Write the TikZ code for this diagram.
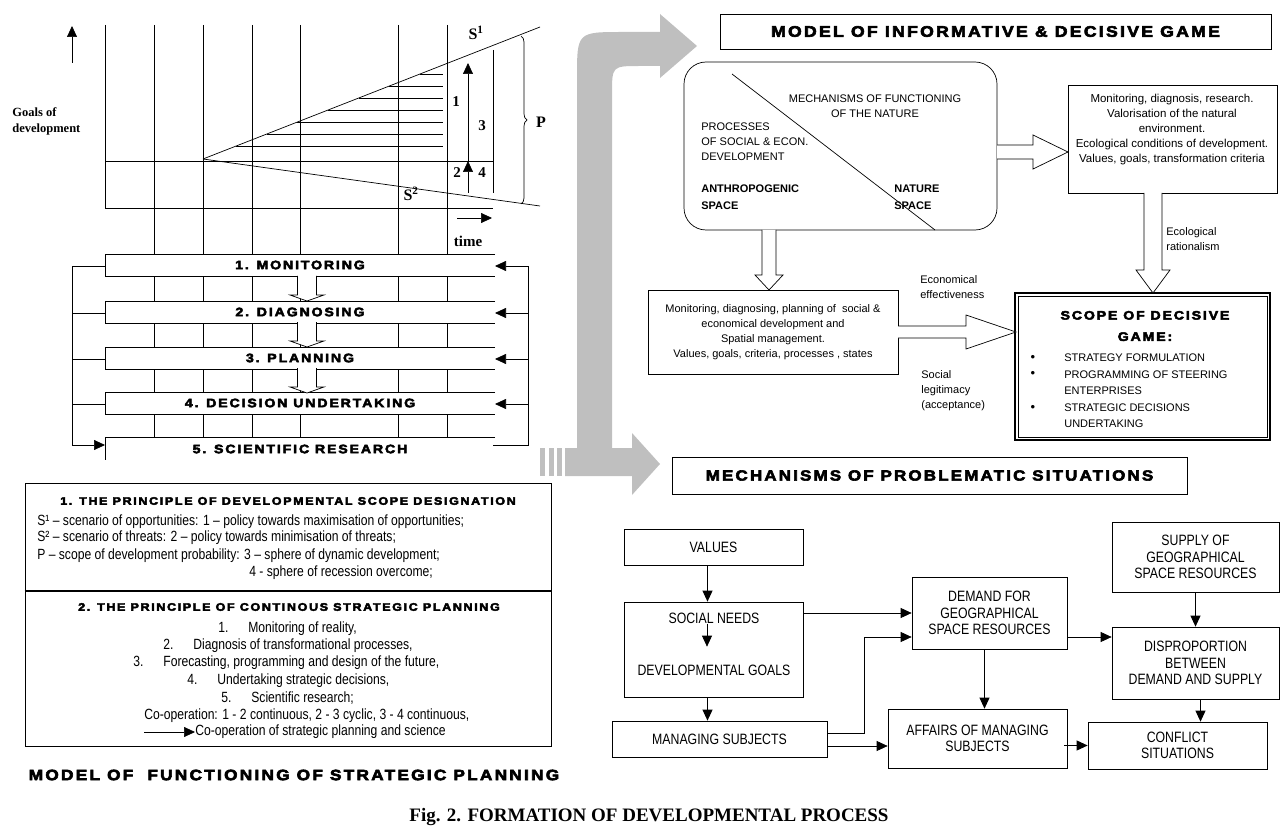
\documentclass[tikz,border=0pt]{standalone}
\usepackage{fontspec}
\setmainfont{Liberation Serif}
\newfontfamily\plainsans{Liberation Sans}
\newfontfamily\narrowsans{Liberation Sans}[FakeStretch=0.82]
\newfontfamily\heavysans{Liberation Sans}[LetterSpace=15, FakeStretch=1.15, BoldFeatures={FakeBold=4}]
\usetikzlibrary{arrows.meta, decorations.pathreplacing, positioning}

\begin{document}
\begin{tikzpicture}[x=1pt, y=-1pt, line width=0.7pt,
  arr/.style={-{Triangle[length=11pt, width=10pt]}},
  hollow/.style={draw, fill=white},
  greyarrow/.style={fill=black!25},
  box/.style={rectangle, draw, fill=white, inner sep=0pt, align=center},
  heavy/.style={font=\heavysans\bfseries\fontsize{#1}{#1}\selectfont, inner sep=0pt},
  serifb/.style={font=\bfseries\fontsize{#1}{#1}\selectfont, inner sep=0pt},
  ptxt/.style={font=\narrowsans\fontsize{14.8}{17}\selectfont, inner sep=0pt, anchor=west},
  ftxt/.style={font=\narrowsans\fontsize{15}{16.5}\selectfont, inner sep=0pt, align=center},
  stxt/.style={font=\plainsans\fontsize{11}{15}\selectfont, inner sep=0pt, align=center}
]
\useasboundingbox (0,0) rectangle (1286,829);

% ---- goals chart ----
\foreach \gx in {154,203,252,300,398,447}
  \draw (\gx,25) -- (\gx,437);
\draw (105,25) -- (105,208);
\draw (105,161) -- (493,161);
\draw (105,208) -- (493,208);
\draw (493,50) -- (493,193);
\coordinate (apex) at (203,159);
\draw (apex) -- (540,27);
\draw (apex) -- (540,206);
\foreach \hy in {74,86,...,146}
  \draw ({203+(159-\hy)/0.392},\hy) -- (443,\hy);
\draw[arr] (468,193) -- (468,161);
\draw[arr] (468,161) -- (468,63);
\draw[arr] (72,63) -- (72,26);
\draw[arr] (457,218) -- (492,218);
\draw[decorate, decoration={brace, amplitude=6pt}] (521,36) -- (521,204);

\node[serifb=16] (s1) at (476,33) {S\textsuperscript{1}};
\node[serifb=16] (s2) at (411,194) {S\textsuperscript{2}};
\node[serifb=15] (lab1) at (456,102) {1};
\node[serifb=15] (lab3) at (482,126) {3};
\node[serifb=15] (lab2) at (457,173) {2};
\node[serifb=15] (lab4) at (482,173) {4};
\node[serifb=16] (plab) at (541,122) {P};
\node[serifb=15] (tlab) at (468,241) {time};
\node[serifb=12.5, align=left, anchor=west] (goals) at (12,121.5) {Goals of\\[3pt]development};

% ---- planning bars ----
\foreach \by/\btxt [count=\bi] in {254/1. MONITORING, 301/2. DIAGNOSING, 347/3. PLANNING, 392/4. DECISION UNDERTAKING}{
  \draw[fill=white] (495,\by) -- (105,\by) -- (105,\by+22) -- (495,\by+22);
  \node[heavy=12.3] (bar\bi) at (300,\by+11) {\btxt};
  \coordinate (bl\bi) at (105,\by+12);
  \coordinate (br\bi) at (495,\by+12);
}
\draw (495,437) -- (105,437) -- (105,460);
\node[heavy=12.3] (bar5) at (300,449) {5. SCIENTIFIC RESEARCH};
\coordinate (bl5) at (105,445);
\coordinate (br5) at (493,445);
\foreach \by in {276,322,368}
  \draw[hollow] (297.5,\by) -- (297.5,\by+19) -- (290,\by+19) -- (307,\by+25)
    -- (324,\by+19) -- (316.5,\by+19) -- (316.5,\by);

\coordinate (lrail) at (72,445);
\coordinate (rrail) at (528,445);
\draw (bl1) -- (bl1 -| lrail) -- (lrail);
\draw[arr] (lrail) -- (bl5);
\foreach \k in {2,3,4}
  \draw (bl\k) -- (bl\k -| lrail);
\draw (br5) -- (rrail) -- (rrail |- br1);
\foreach \k in {1,2,3,4}
  \draw[arr] (br\k -| rrail) -- (br\k);

% ---- principles ----
\node[box, line width=1pt, minimum width=526pt, minimum height=263pt] (prin) at (288,614.5) {};
\draw[line width=1.5pt] (prin.west |- 0,591) -- (prin.east |- 0,591);
\node[heavy=10.9] (p1title) at (288,501) {1. THE PRINCIPLE OF DEVELOPMENTAL SCOPE DESIGNATION};
\node[ptxt] (p1a) at (37,522) {S¹ – scenario of opportunities: 1 – policy towards maximisation of opportunities;};
\node[ptxt] (p1b) at (37,538) {S² – scenario of threats: 2 – policy towards minimisation of threats;};
\node[ptxt] (p1c) at (37,556) {P – scope of development probability: 3 – sphere of dynamic development;};
\node[ptxt] (p1d) at (249,573) {4 - sphere of recession overcome;};
\node[heavy=10.9] (p2title) at (289,607) {2. THE PRINCIPLE OF CONTINOUS STRATEGIC PLANNING};
\node[ptxt] (item1) at (218,629) {\makebox[30pt][l]{1.}Monitoring of reality,};
\node[ptxt] (item2) at (163,646) {\makebox[30pt][l]{2.}Diagnosis of transformational processes,};
\node[ptxt] (item3) at (133,663) {\makebox[30pt][l]{3.}Forecasting, programming and design of the future,};
\node[ptxt] (item4) at (187,681) {\makebox[30pt][l]{4.}Undertaking strategic decisions,};
\node[ptxt] (item5) at (221,698) {\makebox[30pt][l]{5.}Scientific research;};
\node[ptxt] (coop) at (144,716) {Co-operation: 1 - 2 continuous, 2 - 3 cyclic, 3 - 4 continuous,};
\node[ptxt] (coopsci) at (195,732) {Co-operation of strategic planning and science};
\draw[arr] ([xshift=-51pt]coopsci.west) -- (coopsci.west);

\node[heavy=15] (lefttitle) at (294,775) {MODEL OF \ FUNCTIONING OF STRATEGIC PLANNING};
\node[serifb=19] (caption) at (649,817) {Fig. 2. FORMATION OF DEVELOPMENTAL PROCESS};

% ---- grey link arrows ----
\fill[greyarrow] (565,448) -- (577,448) -- (577,78) .. controls (577,32) .. (623,32)
  -- (660,32) -- (660,14) -- (697,46) -- (660,78) -- (660,66) -- (640,66)
  .. controls (612,66) .. (612,94) -- (612,448) -- (632,448) -- (632,433)
  -- (660,464) -- (632,495) -- (632,476) -- (565,476) -- cycle;
\foreach \sx in {540,548.5,557}
  \fill[greyarrow] (\sx,448) rectangle (\sx+5,476);

% ---- informative & decisive game ----
\node[box, heavy=15.3, minimum width=551pt, minimum height=35pt] (mtitle) at (995.5,31.5) {MODEL OF INFORMATIVE \& DECISIVE GAME};
\node[box, rounded corners=22pt, minimum width=313pt, minimum height=168pt] (space) at (840.5,146) {};
\draw (732,74) -- (935,230);
\node[stxt] (mech) at (875,106) {MECHANISMS OF FUNCTIONING\\OF THE NATURE};
\node[stxt, align=left, anchor=west] (proc) at (701,142) {PROCESSES\\OF SOCIAL \& ECON.\\DEVELOPMENT};
\node[stxt, font=\plainsans\bfseries\fontsize{11}{17}\selectfont, align=left, anchor=west] (anthro) at (701,197.5) {ANTHROPOGENIC\\SPACE};
\node[stxt, font=\plainsans\bfseries\fontsize{11}{17}\selectfont, align=left, anchor=west] (nature) at (894,197.5) {NATURE\\SPACE};

\node[box, minimum width=209pt, minimum height=108pt] (natbox) at (1172.5,139) {};
\node[stxt, font=\plainsans\fontsize{11.5}{15}\selectfont] (nattxt) at (1172,130) {Monitoring, diagnosis, research.\\Valorisation of the natural\\environment.\\Ecological conditions of development.\\Values, goals, transformation criteria};
\draw[hollow] (997,145) -- (1033,145) -- (1033,135) -- (1068,152) -- (1033,169) -- (1033,159) -- (997,159);

\node[box, stxt, minimum width=250pt, minimum height=84pt] (plan) at (773,332) {Monitoring, diagnosing, planning of \ social \&\\economical development and\\Spatial management.\\Values, goals, criteria, processes , states};
\draw[hollow] (762,230) -- (762,275) -- (755,275) -- (769,290) -- (783,275) -- (776,275) -- (776,230);

\node[box, line width=2pt, minimum width=255pt, minimum height=147pt] (scope) at (1142.5,366.5) {};
\draw ([shift={(4pt,4pt)}]scope.south west) rectangle ([shift={(-4pt,-4pt)}]scope.north east);
\draw[hollow] (1144,193) -- (1144,270) -- (1136,270) -- (1153,293) -- (1170,270) -- (1162,270) -- (1162,193);
\draw[hollow] (898,326) -- (966,326) -- (966,315) -- (1016,332) -- (966,349) -- (966,338) -- (898,338);
\node[heavy=12.3, align=center] (stitle) at (1145,326) {SCOPE OF DECISIVE\\[9pt]GAME:};
\foreach \sy/\stext [count=\si] in {358/STRATEGY FORMULATION, 374.5/PROGRAMMING OF STEERING, 391/ENTERPRISES, 408/STRATEGIC DECISIONS, 424/UNDERTAKING}
  \node[stxt, anchor=west] (sitem\si) at (1064,\sy) {\stext};
\foreach \sy [count=\si] in {358,374.5,408}
  \node[stxt, font=\plainsans\fontsize{13}{13}\selectfont] (sbullet\si) at (1033,\sy) {\textbullet};

\node[stxt, align=left, anchor=west] (ecol) at (1166,239.5) {Ecological\\rationalism};
\node[stxt, align=left, anchor=west] (econ) at (920,287.5) {Economical\\effectiveness};
\node[stxt, align=left, anchor=west] (social) at (921,391) {Social\\legitimacy\\(acceptance)};

% ---- problematic situations ----
\node[box, heavy=14.7, minimum width=515pt, minimum height=37pt] (ptitle) at (929.5,475.5) {MECHANISMS OF PROBLEMATIC SITUATIONS};

\node[box, ftxt, minimum width=179pt, minimum height=36pt] (values) at (713.5,547) {VALUES};
\node[box, minimum width=179pt, minimum height=95pt] (needs) at (713.5,649.5) {};
\node[ftxt] (sneeds) at (714,618) {SOCIAL NEEDS};
\node[ftxt] (dgoals) at (714,670) {DEVELOPMENTAL GOALS};
\node[box, ftxt, minimum width=215pt, minimum height=36pt] (managing) at (719.5,739) {MANAGING SUBJECTS};
\node[box, ftxt, minimum width=155pt, minimum height=72pt] (demand) at (989.5,613) {DEMAND FOR\\GEOGRAPHICAL\\SPACE RESOURCES};
\node[box, ftxt, minimum width=167pt, minimum height=70pt] (supply) at (1195.5,557) {SUPPLY OF\\GEOGRAPHICAL\\SPACE RESOURCES};
\node[box, ftxt, minimum width=167pt, minimum height=72pt] (disp) at (1195.5,663) {DISPROPORTION\\BETWEEN\\DEMAND AND SUPPLY};
\node[box, ftxt, minimum width=179pt, minimum height=59pt] (affairs) at (977.5,738.5) {AFFAIRS OF MANAGING\\SUBJECTS};
\node[box, ftxt, minimum width=179pt, minimum height=47pt] (conflict) at (1177.5,745.5) {CONFLICT\\SITUATIONS};

\draw[arr] ([xshift=-6pt]values.south) -- ([xshift=-6pt]needs.north);
\draw[arr] ([xshift=-7pt]sneeds.south) -- ++(0,23);
\draw[arr] ([xshift=-6pt]needs.south) -- ([xshift=-12pt]managing.north);
\draw[arr] (needs.east |- demand.west) -- (demand.west);
\draw[arr] ([yshift=6pt]managing.east) -- ++(37,0) |- ([yshift=-24pt]demand.west);
\draw[arr] ([yshift=-7pt]managing.east) -- ([yshift=-7pt]managing.east -| affairs.west);
\draw[arr] ([xshift=-5pt]demand.south) -- ([xshift=-5pt]demand.south |- affairs.north);
\draw[arr] ([yshift=-24pt]demand.east) -- ([yshift=-24pt]demand.east -| disp.west);
\draw[arr] (supply) -- (disp);
\draw[arr] ([xshift=5pt]disp.south) -- ([xshift=5pt]disp.south |- conflict.north);
\draw[arr] ([xshift=-3pt, yshift=-7pt]affairs.east) -- ([yshift=-7pt]affairs.east -| conflict.west);
\end{tikzpicture}
\end{document}
